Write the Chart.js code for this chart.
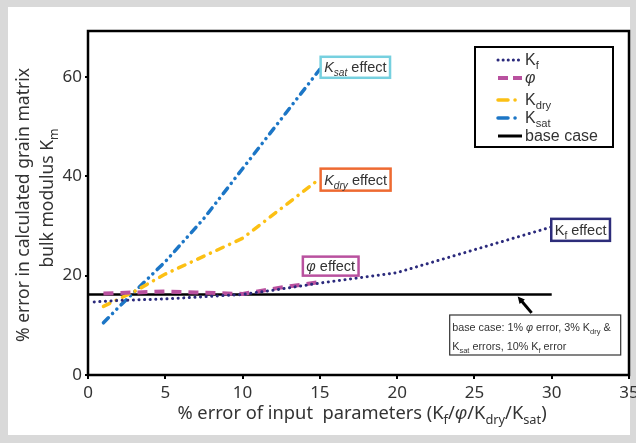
<!DOCTYPE html>
<html>
<head>
<meta charset="utf-8">
<script src="https://cdn.jsdelivr.net/npm/chart.js@4.4.1/dist/chart.umd.min.js"></script>
<style>
    html, body { margin: 0; padding: 0; background: #d9d9d9; }
    canvas { display: block; }
</style>
</head>
<body>
<canvas id="myChart" width="636" height="443"></canvas>
<script>
// values (% error of input -> % error in Km)
const kfX = [0.4, 2, 5, 10, 12.5, 15, 20, 25, 30];
const kfY = [14.7, 15.0, 15.3, 16.2, 17.3, 18.5, 20.6, 25.2, 29.8];
const phiX = [1, 3, 5, 7, 10, 12.5, 15];
const phiY = [16.4, 16.6, 16.8, 16.6, 16.3, 17.6, 18.7];
const kdryX = [1, 3, 5, 10, 12.5, 15];
const kdryY = [13.8, 16.8, 20.3, 27.5, 33.5, 39.5];
const ksatX = [1, 2, 5, 7.5, 10, 15];
const ksatY = [10.5, 13.7, 22.8, 31.5, 41.5, 61.5];
const baseX = [0, 30];
const baseY = [16.2, 16.2];
const xTicks = [0, 5, 10, 15, 20, 25, 30, 35];
const yTicks = [0, 20, 40, 60];

const navy = '#2b2a7c';
const magenta = '#b9519f';
const yellow = '#fcc014';
const blue = '#1c76c6';
const textColor = '#333333';
const sansFont = '"Liberation Sans", Arial, sans-serif';
const axisFont = '"Noto Sans", sans-serif';

function pts(xs, ys) {
    return xs.map(function (x, i) { return { x: x, y: ys[i] }; });
}

// draws text made of parts with optional subscript / italic, returns end x
function richText(ctx, parts, x, y, size, measureOnly, family) {
    const fam = family || sansFont;
    parts.forEach(function (p) {
        const fs = p.sub ? size * 0.7 : size;
        ctx.font = (p.italic ? 'italic ' : '') + fs + 'px ' + fam;
        if (!measureOnly) ctx.fillText(p.t, x, y + (p.sub ? size * 0.28 : 0));
        x += ctx.measureText(p.t).width;
    });
    return x;
}

const kfParts = [{ t: 'K' }, { t: 'f', sub: true }];
const phiParts = [{ t: 'φ', italic: true }];
const kdryParts = [{ t: 'K' }, { t: 'dry', sub: true }];
const ksatParts = [{ t: 'K' }, { t: 'sat', sub: true }];
const baseParts = [{ t: 'base case' }];

const legendRows = [
    { parts: kfParts, color: navy, width: 3, dash: [0.1, 5], cap: 'round' },
    { parts: phiParts, color: magenta, width: 4, dash: [10, 5], cap: 'butt' },
    { parts: kdryParts, color: yellow, width: 3.5, dash: [10, 7, 0.1, 20], cap: 'round' },
    { parts: ksatParts, color: blue, width: 3.5, dash: [10, 7, 0.1, 20], cap: 'round' },
    { parts: baseParts, color: '#000', width: 3, dash: [], cap: 'butt' },
];

const effectBoxes = [
    { x: 15.05, y: 61.9, h: 21, color: '#76d0df', parts: [{ t: 'K', italic: true }, { t: 'sat', sub: true, italic: true }, { t: ' effect' }] },
    { x: 15.05, y: 39.3, h: 22, color: '#ee6a31', parts: [{ t: 'K', italic: true }, { t: 'dry', sub: true, italic: true }, { t: ' effect' }] },
    { x: 13.9, y: 21.9, h: 19, color: '#b9519f', parts: [{ t: 'φ', italic: true }, { t: ' effect' }] },
    { x: 29.97, y: 29.2, h: 22, color: '#2d2c7a', parts: [{ t: 'K' }, { t: 'f', sub: true }, { t: ' effect' }] },
];

const decorPlugin = {
    id: 'decor',
    beforeDraw: function (chart) {
        const ctx = chart.ctx;
        ctx.save();
        ctx.fillStyle = '#d9d9d9';
        ctx.fillRect(0, 0, chart.width, chart.height);
        ctx.fillStyle = '#ffffff';
        ctx.fillRect(8, 7, 622, 428);
        ctx.restore();
    },
    afterDraw: function (chart) {
        const ctx = chart.ctx;
        const a = chart.chartArea;
        const xs = chart.scales.x;
        const ys = chart.scales.y;
        ctx.save();

        // plot frame
        ctx.strokeStyle = '#000';
        ctx.lineWidth = 2.5;
        ctx.strokeRect(a.left, a.top, a.right - a.left, a.bottom - a.top);

        // axis titles
        ctx.fillStyle = textColor;
        ctx.textBaseline = 'alphabetic';
        const xt = [{ t: '% error of input  parameters (K' }, { t: 'f', sub: true }, { t: '/' },
            { t: 'φ', italic: true }, { t: '/K' }, { t: 'dry', sub: true }, { t: '/K' }, { t: 'sat', sub: true }, { t: ')' }];
        const xw = richText(ctx, xt, 0, 0, 18.3, true, axisFont);
        richText(ctx, xt, 362 - xw / 2, 419, 18.3, false, axisFont);

        ctx.save();
        ctx.translate(29, 205);
        ctx.rotate(-Math.PI / 2);
        const l1 = [{ t: '% error in calculated grain matrix' }];
        const w1 = richText(ctx, l1, 0, 0, 17.5, true, axisFont);
        richText(ctx, l1, -w1 / 2, 0, 17.5, false, axisFont);
        ctx.restore();
        ctx.save();
        ctx.translate(53, 198);
        ctx.rotate(-Math.PI / 2);
        const l2 = [{ t: 'bulk modulus K' }, { t: 'm', sub: true }];
        const w2 = richText(ctx, l2, 0, 0, 17.5, true, axisFont);
        richText(ctx, l2, -w2 / 2, 0, 17.5, false, axisFont);
        ctx.restore();

        // legend box
        ctx.lineWidth = 2;
        ctx.strokeStyle = '#000';
        ctx.setLineDash([]);
        ctx.strokeRect(475, 47, 138, 100);
        const rowY = [60, 78, 100, 118, 136];
        legendRows.forEach(function (r, i) {
            ctx.save();
            ctx.strokeStyle = r.color;
            ctx.lineWidth = r.width;
            ctx.lineCap = r.cap;
            ctx.setLineDash(r.dash);
            ctx.beginPath();
            ctx.moveTo(498, rowY[i]);
            ctx.lineTo(522, rowY[i]);
            ctx.stroke();
            ctx.restore();
            ctx.fillStyle = textColor;
            richText(ctx, r.parts, 525, rowY[i] + 5, 16);
        });

        // effect labels
        effectBoxes.forEach(function (b) {
            const px = xs.getPixelForValue(b.x);
            const py = ys.getPixelForValue(b.y);
            const w = richText(ctx, b.parts, 0, 0, 14.5, true) + 7;
            ctx.fillStyle = '#fff';
            ctx.fillRect(px, py - b.h / 2, w, b.h);
            ctx.strokeStyle = b.color;
            ctx.lineWidth = 2.5;
            ctx.strokeRect(px, py - b.h / 2, w, b.h);
            ctx.fillStyle = textColor;
            richText(ctx, b.parts, px + 3.5, py + 5, 14.5);
        });

        // base case note + arrow
        const nx = xs.getPixelForValue(23.4);
        const ny = ys.getPixelForValue(12.07);
        ctx.fillStyle = '#fff';
        ctx.fillRect(nx, ny, 171, 40);
        ctx.strokeStyle = '#333';
        ctx.lineWidth = 1.2;
        ctx.strokeRect(nx, ny, 171, 40);
        ctx.fillStyle = textColor;
        richText(ctx, [{ t: 'base case: 1% ' }, { t: 'φ', italic: true }, { t: ' error, 3% K' }, { t: 'dry', sub: true }, { t: ' &' }], nx + 2.5, ny + 16, 10.8);
        richText(ctx, [{ t: 'K' }, { t: 'sat', sub: true }, { t: ' errors, 10% K' }, { t: 'f', sub: true }, { t: ' error' }], nx + 2.5, ny + 35, 10.8);

        const ax0 = xs.getPixelForValue(28.7), ay0 = ys.getPixelForValue(12.5);
        const ax1 = xs.getPixelForValue(27.8), ay1 = ys.getPixelForValue(15.8);
        const ang = Math.atan2(ay1 - ay0, ax1 - ax0);
        ctx.strokeStyle = '#000';
        ctx.fillStyle = '#000';
        ctx.lineWidth = 3;
        ctx.beginPath();
        ctx.moveTo(ax0, ay0);
        ctx.lineTo(ax1 - 4 * Math.cos(ang), ay1 - 4 * Math.sin(ang));
        ctx.stroke();
        ctx.beginPath();
        ctx.moveTo(ax1, ay1);
        ctx.lineTo(ax1 - 7 * Math.cos(ang) + 3.5 * Math.sin(ang), ay1 - 7 * Math.sin(ang) - 3.5 * Math.cos(ang));
        ctx.lineTo(ax1 - 7 * Math.cos(ang) - 3.5 * Math.sin(ang), ay1 - 7 * Math.sin(ang) + 3.5 * Math.cos(ang));
        ctx.closePath();
        ctx.fill();

        ctx.restore();
    }
};

const ctx = document.getElementById('myChart').getContext('2d');
const myChart = new Chart(ctx, {
    type: 'line',
    data: {
        datasets: [
            { label: 'base case', data: pts(baseX, baseY), borderColor: '#000', borderWidth: 2.5, order: 5 },
            { label: 'Kf', data: pts(kfX, kfY), borderColor: navy, borderWidth: 3, borderDash: [0.1, 5.5], borderCapStyle: 'round', order: 1 },
            { label: 'phi', data: pts(phiX, phiY), borderColor: magenta, borderWidth: 4, borderDash: [10, 7], order: 2 },
            { label: 'Kdry', data: pts(kdryX, kdryY), borderColor: yellow, borderWidth: 3.5, borderDash: [7, 7, 0.1, 7], borderCapStyle: 'round', order: 3 },
            { label: 'Ksat', data: pts(ksatX, ksatY), borderColor: blue, borderWidth: 3.5, borderDash: [7, 6, 0.1, 6, 0.1, 6], borderCapStyle: 'round', order: 4 },
        ],
    },
    options: {
        responsive: false,
        devicePixelRatio: 1,
        animation: false,
        elements: {
            point: { radius: 0 },
            line: { tension: 0, fill: false },
        },
        layout: { padding: { left: 0, right: 7, top: 31, bottom: 0 } },
        plugins: {
            legend: { display: false },
            tooltip: { enabled: false },
        },
        scales: {
            x: {
                type: 'linear',
                min: 0,
                max: 35,
                afterBuildTicks: function (scale) {
                    scale.ticks = xTicks.map(function (v) { return { value: v }; });
                },
                afterFit: function (scale) {
                    scale.height = 68;
                    scale.paddingLeft = 0;
                    scale.paddingRight = 0;
                },
                ticks: {
                    color: textColor,
                    font: { family: axisFont, size: 17 },
                    padding: 4,
                    maxRotation: 0,
                },
                grid: { drawOnChartArea: false, tickLength: 4, color: '#000', lineWidth: 2 },
                border: { display: false },
            },
            y: {
                type: 'linear',
                min: 0,
                max: 69.2,
                afterBuildTicks: function (scale) {
                    scale.ticks = yTicks.map(function (v) { return { value: v }; });
                },
                afterFit: function (scale) {
                    scale.width = 88;
                },
                ticks: {
                    color: textColor,
                    font: { family: axisFont, size: 17 },
                    padding: 3,
                },
                grid: { drawOnChartArea: false, tickLength: 3, color: '#000', lineWidth: 2 },
                border: { display: false },
            },
        },
    },
    plugins: [decorPlugin],
});
</script>
</body>
</html>
